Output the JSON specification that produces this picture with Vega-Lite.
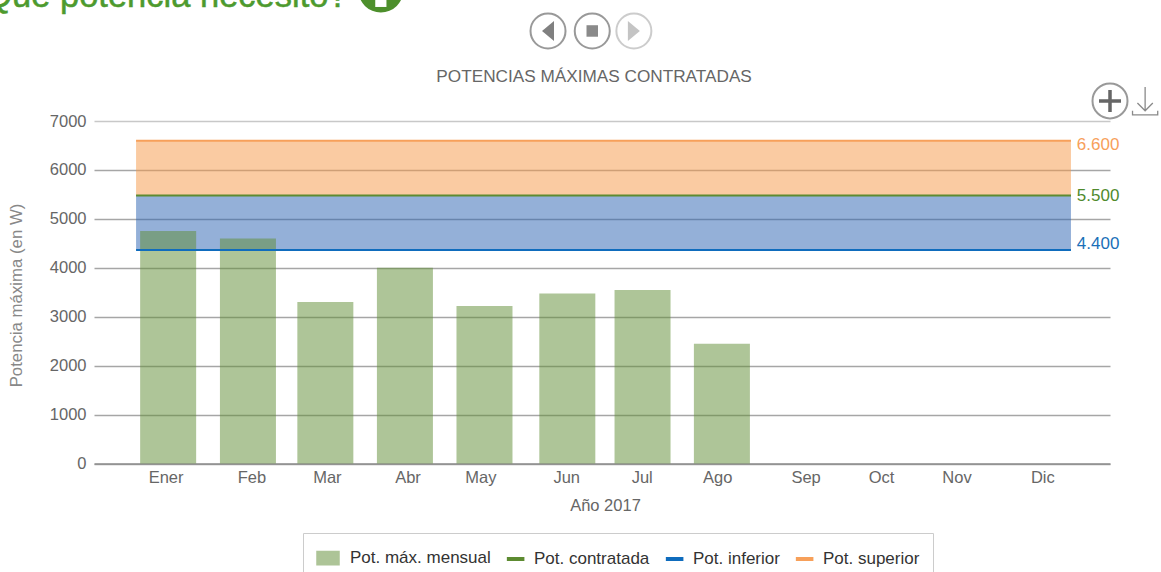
{
"$schema":"https://vega.github.io/schema/vega-lite/v6.json",
"width":1016,"height":342.5,
"autosize":{"type":"none"},
"padding":{"left":94,"top":121,"right":51,"bottom":108},
"background":"white",
"config":{"view":{"stroke":null},"font":"Liberation Sans"},
"datasets":{
"mensual":[
{"fecha":"2017-01-15","valor":4750,"serie":"Pot. máx. mensual"},
{"fecha":"2017-02-14T16:00:00Z","valor":4600,"serie":"Pot. máx. mensual"},
{"fecha":"2017-03-16T10:00:00Z","valor":3300,"serie":"Pot. máx. mensual"},
{"fecha":"2017-04-16","valor":4000,"serie":"Pot. máx. mensual"},
{"fecha":"2017-05-16T14:00:00Z","valor":3220,"serie":"Pot. máx. mensual"},
{"fecha":"2017-06-17T10:00:00Z","valor":3475,"serie":"Pot. máx. mensual"},
{"fecha":"2017-07-16T08:00:00Z","valor":3545,"serie":"Pot. máx. mensual"},
{"fecha":"2017-08-15T20:00:00Z","valor":2445,"serie":"Pot. máx. mensual"}],
"franjas":[
{"fecha":"2017-01-02T16:00:00Z","fecha2":"2017-12-28T00:00:00Z","valor":4365,"valor2":5475,"franja":"inferior"},
{"fecha":"2017-01-02T16:00:00Z","fecha2":"2017-12-28T00:00:00Z","valor":5475,"valor2":6595,"franja":"superior"}],
"limites":[
{"fecha":"2017-01-02T16:00:00Z","fecha2":"2017-12-28T00:00:00Z","valor":5475,"serie":"Pot. contratada"},
{"fecha":"2017-01-02T16:00:00Z","fecha2":"2017-12-28T00:00:00Z","valor":4365,"serie":"Pot. inferior"},
{"fecha":"2017-01-02T16:00:00Z","fecha2":"2017-12-28T00:00:00Z","valor":6595,"serie":"Pot. superior"}],
"rotSup":[{"fecha":"2017-12-30T06:00:00Z","valor":6595,"rotulo":"6.600"}],
"rotCon":[{"fecha":"2017-12-30T06:00:00Z","valor":5475,"rotulo":"5.500"}],
"rotInf":[{"fecha":"2017-12-30T06:00:00Z","valor":4365,"rotulo":"4.400"}],
"titulo":[{"fecha":"2017-06-27T17:00:00Z","valor":7899,"texto":"POTENCIAS MÁXIMAS CONTRATADAS"}],
"cabecera":[{"fecha":"2017-03-25","valor":9330,"texto":"¿Qué potencia necesito?"}],
"info":[{"fecha":"2017-04-06T18:00:00Z","valor":9677}],
"infoI":[{"fecha":"2017-04-06T18:00:00Z","valor":9494}],
"botones":[{"fecha":"2017-06-10","valor":8840,"tono":"activo"},{"fecha":"2017-06-27","valor":8840,"tono":"activo"},{"fecha":"2017-07-13","valor":8840,"tono":"inactivo"},{"fecha":"2018-01-12","valor":7410,"tono":"activo"}],
"atras":[{"fecha":"2017-06-10","valor":8840}],
"parar":[{"fecha":"2017-06-27","valor":8840}],
"avanzar":[{"fecha":"2017-07-13","valor":8840}],
"mas":[{"fecha":"2018-01-12","valor":7410}],
"bajar":[{"fecha":"2018-01-25T12:00:00Z","valor":7410}]
},
"encoding":{
"x":{"field":"fecha","type":"temporal","scale":{"type":"utc","domain":["2016-12-17T12:00:00Z","2018-01-12T00:00:00Z"],"nice":false,"padding":0},
"axis":{"title":"Año 2017","titleFont":"Liberation Sans","titleFontSize":16.5,"titleFontWeight":"normal","titleColor":"#666666","titleX":511,"titleY":34,
"values":["2017-01-14","2017-02-16","2017-03-17","2017-04-17","2017-05-15","2017-06-17","2017-07-16","2017-08-14","2017-09-17","2017-10-16","2017-11-14","2017-12-17"],
"labelExpr":"['Ener','Feb','Mar','Abr','May','Jun','Jul','Ago','Sep','Oct','Nov','Dic'][utcmonth(datum.value)]",
"labelFont":"Liberation Sans","labelFontSize":16.5,"labelColor":"#666666","labelPadding":6,"labelOverlap":false,"labelFlush":false,"ticks":false,"grid":false,"domain":true,"domainColor":"#8c8c8c","domainWidth":1.5}},
"y":{"field":"valor","type":"quantitative","scale":{"domain":[0,7000],"nice":false},
"axis":{"title":"Potencia máxima (en W)","titleFont":"Liberation Sans","titleFontSize":16.8,"titleFontWeight":"normal","titleColor":"#888888","titleX":-69,"titleY":174,
"values":[0,1000,2000,3000,4000,5000,6000,7000],"format":"d","labelFont":"Liberation Sans","labelFontSize":16.5,"labelColor":"#666666","labelPadding":8,"ticks":false,"domain":false,
"grid":true,"gridWidth":1.5,"gridColor":{"condition":{"test":"datum.value===7000","value":"#c8c8c8"},"value":"#a6a6a6"}}}
},
"layer":[
{"data":{"name":"franjas"},"transform":[{"filter":"datum.franja==='superior'"}],"mark":{"type":"rect","color":"#f59745","opacity":0.5},"encoding":{"x2":{"field":"fecha2"},"y2":{"field":"valor2"}}},
{"data":{"name":"franjas"},"transform":[{"filter":"datum.franja==='inferior'"}],"mark":{"type":"rect","color":"#2961b1","opacity":0.5},"encoding":{"x2":{"field":"fecha2"},"y2":{"field":"valor2"}}},
{"data":{"name":"mensual"},"mark":{"type":"bar","size":56,"opacity":0.5},
"encoding":{"y":{"field":"valor","type":"quantitative","stack":null},"color":{"field":"serie","type":"nominal",
"scale":{"domain":["Pot. máx. mensual","Pot. contratada","Pot. inferior","Pot. superior"],"range":["#5d8b31","#5d8b31","#0f6cbd","#f7a05a"]},
"legend":{"title":null,"orient":"none","legendX":209,"legendY":412,"direction":"horizontal","columns":4,"padding":13,"strokeColor":"#cccccc","fillColor":"#ffffff","labelFont":"Liberation Sans","labelFontSize":17,"labelColor":"#333333","symbolSize":484,"columnPadding":9,"labelOffset":10,
"encoding":{"symbols":{
"shape":{"value":{"expr":"datum.value==='Pot. máx. mensual'?'M-1,-0.6H1V0.6H-1Z':'M-0.4,-0.12H1.06V0.12H-0.4Z'"}},
"opacity":{"value":{"expr":"datum.value==='Pot. máx. mensual'?0.5:1"}},
"stroke":{"value":"transparent"}}}}}}},
{"data":{"name":"limites"},"mark":{"type":"rule","strokeWidth":2},"encoding":{"x2":{"field":"fecha2"},"color":{"field":"serie","type":"nominal"}}},
{"data":{"name":"rotSup"},"mark":{"type":"text","align":"left","baseline":"middle","dy":4,"fontSize":17,"font":"Liberation Sans","color":"#f7a05a"},"encoding":{"text":{"field":"rotulo"}}},
{"data":{"name":"rotCon"},"mark":{"type":"text","align":"left","baseline":"middle","dy":0,"fontSize":17,"font":"Liberation Sans","color":"#4f8a2c"},"encoding":{"text":{"field":"rotulo"}}},
{"data":{"name":"rotInf"},"mark":{"type":"text","align":"left","baseline":"middle","dy":-6,"fontSize":17,"font":"Liberation Sans","color":"#1a6fb8"},"encoding":{"text":{"field":"rotulo"}}},
{"data":{"name":"titulo"},"mark":{"type":"text","align":"center","baseline":"middle","fontSize":17.2,"font":"Liberation Sans","color":"#666666"},"encoding":{"text":{"field":"texto"}}},
{"data":{"name":"cabecera"},"mark":{"type":"text","align":"right","baseline":"alphabetic","fontSize":34.5,"font":"Liberation Sans","color":"#4d9a2e","stroke":"#4d9a2e","strokeWidth":0.5},"encoding":{"text":{"field":"texto"}}},
{"data":{"name":"info"},"mark":{"type":"point","shape":"circle","filled":true,"size":2025,"color":"#4d8f2c","opacity":1}},
{"data":{"name":"infoI"},"mark":{"type":"point","shape":"M-0.7,-1H0.7V1H-0.7Z","filled":true,"size":256,"color":"#ffffff","opacity":1}},
{"data":{"name":"botones"},"transform":[{"filter":"datum.tono==='activo'"}],"mark":{"type":"point","shape":"circle","size":1225,"filled":false,"stroke":"#999999","strokeWidth":2,"opacity":1,"fill":"#ffffff"}},
{"data":{"name":"botones"},"transform":[{"filter":"datum.tono==='inactivo'"}],"mark":{"type":"point","shape":"circle","size":1225,"filled":false,"stroke":"#cccccc","strokeWidth":2,"opacity":1,"fill":"#ffffff"}},
{"data":{"name":"atras"},"mark":{"type":"point","shape":"M0.6,-1V1L-0.6,0Z","filled":true,"size":400,"color":"#808080","opacity":1}},
{"data":{"name":"parar"},"mark":{"type":"point","shape":"square","filled":true,"size":132,"color":"#8a8a8a","opacity":1}},
{"data":{"name":"avanzar"},"mark":{"type":"point","shape":"M-0.6,-1V1L0.6,0Z","filled":true,"size":400,"color":"#c4c4c4","opacity":1}},
{"data":{"name":"mas"},"mark":{"type":"point","shape":"M-1,0H1M0,-1V1","filled":false,"size":484,"stroke":"#666666","strokeWidth":3.5,"opacity":1}},
{"data":{"name":"bajar"},"mark":{"type":"point","shape":"M-0.9,0.7V1H0.9V0.7M0,-1V0.7M-0.55,0.15L0,0.7L0.55,0.15","filled":false,"size":784,"stroke":"#8a8a8a","strokeWidth":1.3,"opacity":1}}
]
}
